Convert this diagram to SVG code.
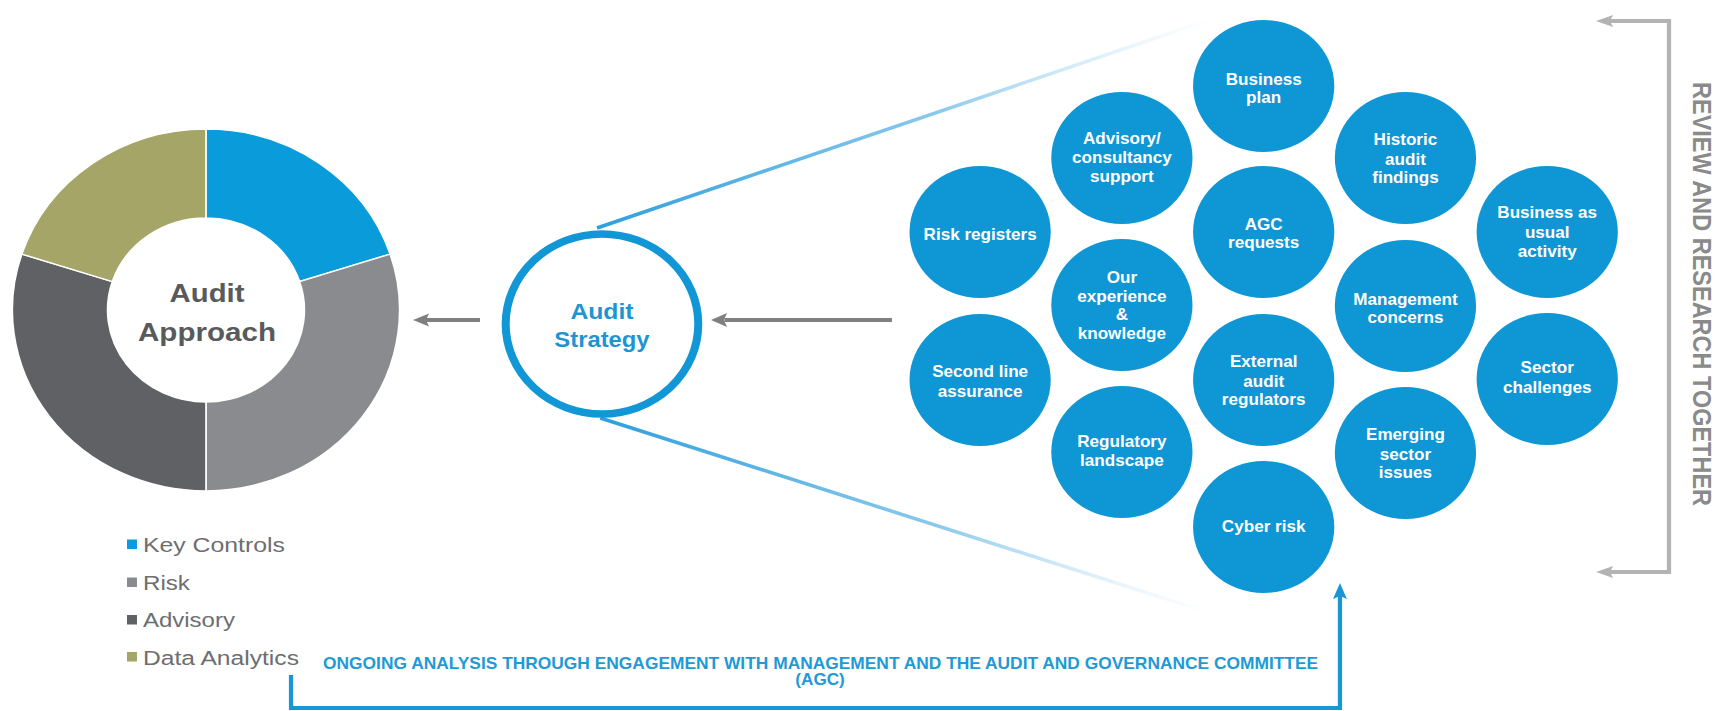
<svg xmlns="http://www.w3.org/2000/svg" width="1718" height="711" viewBox="0 0 1718 711">
<style>
.bub circle{fill:#0F96D4}
.bub text{font-family:"Liberation Sans",Arial,sans-serif;font-weight:bold;font-size:16px;fill:#fff;text-anchor:middle}
.seg{stroke:#fff;stroke-width:1.5}
.lg{font-family:"Liberation Sans",Arial,sans-serif;font-size:21px;fill:#6D6E70}
.gray{stroke:#7F7F7F;stroke-width:4;fill:none}
.grayh{fill:#7F7F7F}
.brk{stroke:#B3B3B3;stroke-width:4;fill:none}
.brkh{fill:#B3B3B3}
.blue{stroke:#1B96D4;stroke-width:4;fill:none}
.blueh{fill:#1B96D4}
</style>
<defs>
<linearGradient id="gUp" gradientUnits="userSpaceOnUse" x1="558" y1="228" x2="1135" y2="18">
<stop offset="0" stop-color="#2E9FDC" stop-opacity="1"/>
<stop offset="0.55" stop-color="#6BBBE8" stop-opacity="0.8"/>
<stop offset="1" stop-color="#BFE2F5" stop-opacity="0"/>
</linearGradient>
<linearGradient id="gDn" gradientUnits="userSpaceOnUse" x1="561" y1="418" x2="1131" y2="613">
<stop offset="0" stop-color="#2E9FDC" stop-opacity="1"/>
<stop offset="0.55" stop-color="#6BBBE8" stop-opacity="0.8"/>
<stop offset="1" stop-color="#BFE2F5" stop-opacity="0"/>
</linearGradient>
</defs>
<rect width="1718" height="711" fill="#fff"/>
<g transform="scale(1.07 1)">

<g id="connectors">
<line x1="558" y1="228" x2="1135" y2="18" stroke="url(#gUp)" stroke-width="3.5"/>
<line x1="561" y1="418" x2="1131" y2="613" stroke="url(#gDn)" stroke-width="3.5"/>
<line class="gray" x1="448.6" y1="320" x2="398" y2="320"/>
<polygon class="grayh" points="386,320 401,313.5 398,320 401,326.5"/>
<line class="gray" x1="833.6" y1="320" x2="677" y2="320"/>
<polygon class="grayh" points="664.5,320 679.5,313 676.5,320 679.5,327"/>
<path class="brk" d="M1504,21 H1559.8 V572 H1504"/>
<polygon class="brkh" points="1491.6,21 1507.6,15 1504.6,21 1507.6,27"/>
<polygon class="brkh" points="1491.6,572 1507.6,566 1504.6,572 1507.6,578"/>
<path class="blue" d="M272,675 V708 H1252.3 V596"/>
<polygon class="blueh" points="1252.3,583 1245.8,599 1252.3,596 1258.8,599"/>
</g>

<g id="audit-approach">
<path class="seg" fill="#0A9BDB" d="M192.5,129 A181,181 0 0 1 364.6,254.1 L280,281.6 A92,92 0 0 0 192.5,218 Z"/>
<path class="seg" fill="#898B8E" d="M364.6,254.1 A181,181 0 0 1 192.5,491 L192.5,402 A92,92 0 0 0 280,281.6 Z"/>
<path class="seg" fill="#5F6165" d="M192.5,491 A181,181 0 0 1 20.4,254.1 L105,281.6 A92,92 0 0 0 192.5,402 Z"/>
<path class="seg" fill="#A4A566" d="M20.4,254.1 A181,181 0 0 1 192.5,129 L192.5,218 A92,92 0 0 0 105,281.6 Z"/>
<text font-family="'Liberation Sans',Arial,sans-serif" font-weight="bold" font-size="25" fill="#595A5C" text-anchor="middle"><tspan x="193.5" y="302" textLength="70" lengthAdjust="spacingAndGlyphs">Audit</tspan><tspan x="193.5" y="341" textLength="129" lengthAdjust="spacingAndGlyphs">Approach</tspan></text>
</g>

<g id="legend">
<rect x="118.7" y="539.5" width="9.3" height="9.5" fill="#0A9BDB"/>
<text class="lg" x="133.6" y="552" textLength="132.7" lengthAdjust="spacingAndGlyphs">Key Controls</text>
<rect x="118.7" y="577.5" width="9.3" height="9.5" fill="#898B8E"/>
<text class="lg" x="133.6" y="590" textLength="43.9" lengthAdjust="spacingAndGlyphs">Risk</text>
<rect x="118.7" y="615" width="9.3" height="9.5" fill="#5F6165"/>
<text class="lg" x="133.6" y="627" textLength="86" lengthAdjust="spacingAndGlyphs">Advisory</text>
<rect x="118.7" y="652" width="9.3" height="9.5" fill="#A4A566"/>
<text class="lg" x="133.6" y="665" textLength="145.8" lengthAdjust="spacingAndGlyphs">Data Analytics</text>
</g>

<g id="audit-strategy">
<circle cx="562.6" cy="324" r="90" fill="#fff" stroke="#1196D6" stroke-width="7.5"/>
<text font-family="'Liberation Sans',Arial,sans-serif" font-weight="bold" font-size="22" fill="#1E95D3" text-anchor="middle"><tspan x="562.6" y="319" textLength="59" lengthAdjust="spacingAndGlyphs">Audit</tspan><tspan x="562.6" y="347" textLength="89" lengthAdjust="spacingAndGlyphs">Strategy</tspan></text>
</g>

<g id="n-business-plan" class="bub"><circle cx="1181" cy="86" r="66"/><text><tspan x="1181" y="85">Business</tspan><tspan x="1181" y="103">plan</tspan></text></g>
<g id="n-advisory" class="bub"><circle cx="1048.5" cy="158" r="66"/><text><tspan x="1048.5" y="144">Advisory/</tspan><tspan x="1048.5" y="163">consultancy</tspan><tspan x="1048.5" y="182">support</tspan></text></g>
<g id="n-risk-registers" class="bub"><circle cx="916" cy="232" r="66"/><text x="916" y="240">Risk registers</text></g>
<g id="n-agc-requests" class="bub"><circle cx="1181" cy="232" r="66"/><text><tspan x="1181" y="230">AGC</tspan><tspan x="1181" y="248">requests</tspan></text></g>
<g id="n-experience" class="bub"><circle cx="1048.5" cy="305" r="66"/><text><tspan x="1048.5" y="283">Our</tspan><tspan x="1048.5" y="302">experience</tspan><tspan x="1048.5" y="320">&amp;</tspan><tspan x="1048.5" y="339">knowledge</tspan></text></g>
<g id="n-second-line" class="bub"><circle cx="916" cy="380" r="66"/><text><tspan x="916" y="377">Second line</tspan><tspan x="916" y="397">assurance</tspan></text></g>
<g id="n-external-audit" class="bub"><circle cx="1181" cy="380" r="66"/><text><tspan x="1181" y="367">External</tspan><tspan x="1181" y="387">audit</tspan><tspan x="1181" y="405">regulators</tspan></text></g>
<g id="n-regulatory" class="bub"><circle cx="1048.5" cy="452" r="66"/><text><tspan x="1048.5" y="447">Regulatory</tspan><tspan x="1048.5" y="466">landscape</tspan></text></g>
<g id="n-cyber" class="bub"><circle cx="1181" cy="527" r="66"/><text x="1181" y="532">Cyber risk</text></g>
<g id="n-historic" class="bub"><circle cx="1313.5" cy="158" r="66"/><text><tspan x="1313.5" y="145">Historic</tspan><tspan x="1313.5" y="165">audit</tspan><tspan x="1313.5" y="183">findings</tspan></text></g>
<g id="n-bau" class="bub"><circle cx="1446" cy="232" r="66"/><text><tspan x="1446" y="218">Business as</tspan><tspan x="1446" y="238">usual</tspan><tspan x="1446" y="257">activity</tspan></text></g>
<g id="n-management" class="bub"><circle cx="1313.5" cy="306" r="66"/><text><tspan x="1313.5" y="305">Management</tspan><tspan x="1313.5" y="323">concerns</tspan></text></g>
<g id="n-sector-challenges" class="bub"><circle cx="1446" cy="379" r="66"/><text><tspan x="1446" y="373">Sector</tspan><tspan x="1446" y="393">challenges</tspan></text></g>
<g id="n-emerging" class="bub"><circle cx="1313.5" cy="453" r="66"/><text><tspan x="1313.5" y="440">Emerging</tspan><tspan x="1313.5" y="460">sector</tspan><tspan x="1313.5" y="478">issues</tspan></text></g>

<g id="label-review">
<text transform="translate(1582.2 294) rotate(90)" font-family="'Liberation Sans',Arial,sans-serif" font-weight="bold" font-size="23.5" fill="#8A8A8A" text-anchor="middle" textLength="424" lengthAdjust="spacingAndGlyphs">REVIEW AND RESEARCH TOGETHER</text>
</g>

<g id="label-ongoing">
<text font-family="'Liberation Sans',Arial,sans-serif" font-weight="bold" font-size="16" fill="#1E9AD6"><tspan x="301.9" y="669" textLength="930" lengthAdjust="spacingAndGlyphs">ONGOING ANALYSIS THROUGH ENGAGEMENT WITH MANAGEMENT AND THE AUDIT AND GOVERNANCE COMMITTEE</tspan><tspan x="766.4" y="685" text-anchor="middle">(AGC)</tspan></text>
</g>

</g>
</svg>
